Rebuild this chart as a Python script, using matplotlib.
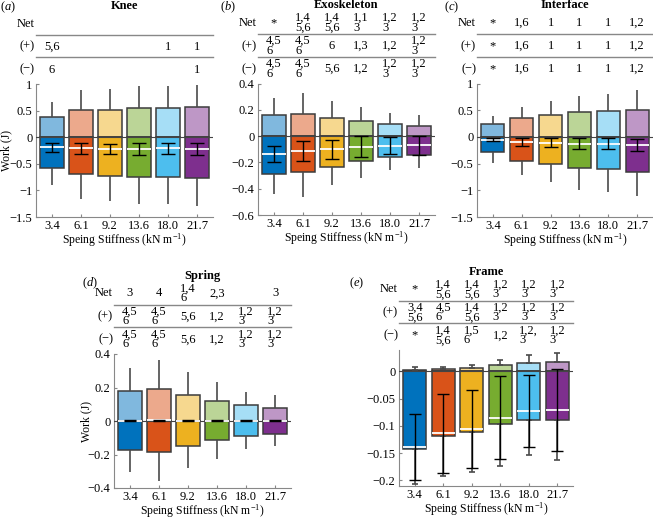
import matplotlib
matplotlib.use("Agg")
import matplotlib.pyplot as plt
from matplotlib.transforms import offset_copy, blended_transform_factory
from matplotlib.ticker import FuncFormatter
import numpy as np

plt.rcParams['font.family'] = ['Liberation Serif', 'DejaVu Serif']
plt.rcParams['mathtext.fontset'] = 'custom'
plt.rcParams['mathtext.rm'] = 'Liberation Serif'
plt.rcParams['mathtext.it'] = 'Liberation Serif:italic'
plt.rcParams['font.size'] = 9

# Spring stiffness conditions
categories = ['3.4', '6.1', '9.2', '13.6', '18.0', '21.7']

# (a) Knee
knee_pos_mean = [0.38, 0.51, 0.52, 0.54, 0.55, 0.56]
knee_pos_sd = [0.28, 0.37, 0.38, 0.42, 0.41, 0.43]
knee_neg_mean = [-0.57, -0.70, -0.72, -0.74, -0.74, -0.77]
knee_neg_sd = [0.33, 0.46, 0.47, 0.51, 0.51, 0.53]
knee_net_mean = [-0.19, -0.21, -0.22, -0.22, -0.21, -0.22]
knee_net_sd = [0.08, 0.11, 0.10, 0.12, 0.11, 0.11]
knee_sig_net = ['', '', '', '', '', '']
knee_sig_pos = ['5,6', '', '', '', '1', '1']
knee_sig_neg = ['6', '', '', '', '', '1']

# (b) Exoskeleton
exo_pos_mean = [0.16, 0.165, 0.14, 0.114, 0.09, 0.078]
exo_pos_sd = [0.126, 0.165, 0.125, 0.106, 0.087, 0.082]
exo_neg_mean = [-0.29, -0.276, -0.238, -0.192, -0.157, -0.144]
exo_neg_sd = [0.15, 0.184, 0.137, 0.124, 0.101, 0.096]
exo_net_mean = [-0.137, -0.111, -0.10, -0.081, -0.073, -0.071]
exo_net_sd = [0.062, 0.075, 0.073, 0.079, 0.066, 0.072]
exo_sig_net = ['*', '1,4\n5,6', '1,4\n5,6', '1,1\n3', '1,2\n3', '1,2\n3']
exo_sig_pos = ['4,5\n6', '4,5\n6', '6', '1,3', '1,2', '1,2\n3']
exo_sig_neg = ['4,5\n6', '4,5\n6', '5,6', '1,2', '1,2\n3', '1,2\n3']

# (c) Interface
int_pos_mean = [0.24, 0.36, 0.41, 0.46, 0.49, 0.51]
int_pos_sd = [0.15, 0.20, 0.265, 0.30, 0.32, 0.36]
int_neg_mean = [-0.29, -0.45, -0.51, -0.58, -0.61, -0.66]
int_neg_sd = [0.19, 0.27, 0.33, 0.41, 0.43, 0.45]
int_net_mean = [-0.05, -0.095, -0.11, -0.125, -0.13, -0.145]
int_net_sd = [0.035, 0.07, 0.085, 0.10, 0.105, 0.115]
int_sig_net = ['*', '1,6', '1', '1', '1', '1,2']
int_sig_pos = ['*', '1,6', '1', '1', '1', '1,2']
int_sig_neg = ['*', '1,6', '1', '1', '1', '1,2']

# (d) Spring
spr_pos_mean = [0.177, 0.193, 0.155, 0.117, 0.093, 0.077]
spr_pos_sd = [0.137, 0.172, 0.135, 0.117, 0.082, 0.078]
spr_neg_mean = [-0.173, -0.187, -0.151, -0.115, -0.091, -0.075]
spr_neg_sd = [0.133, 0.17, 0.131, 0.113, 0.078, 0.072]
spr_net_mean = [0.002, 0.003, 0.002, 0.002, 0.002, 0.002]
spr_net_sd = [0.002, 0.002, 0.002, 0.002, 0.002, 0.002]
spr_sig_net = ['3', '4', '1,4\n6', '2,3', '', '3']
spr_sig_pos = ['4,5\n6', '4,5\n6', '5,6', '1,2', '1,2\n3', '1,2\n3']
spr_sig_neg = ['4,5\n6', '4,5\n6', '5,6', '1,2', '1,2\n3', '1,2\n3']

# (e) Frame
frm_pos_mean = [0.003, 0.0037, 0.006, 0.011, 0.0153, 0.0177]
frm_pos_sd = [0.005, 0.005, 0.0056, 0.0104, 0.0137, 0.0159]
frm_neg_mean = [-0.143, -0.119, -0.111, -0.096, -0.089, -0.089]
frm_neg_sd = [0.064, 0.073, 0.074, 0.078, 0.065, 0.073]
frm_net_mean = [-0.139, -0.114, -0.106, -0.085, -0.073, -0.071]
frm_net_sd = [0.061, 0.072, 0.072, 0.076, 0.066, 0.075]
frm_sig_net = ['*', '1,4\n5,6', '1,4\n5,6', '1,2\n3', '1,2\n3', '1,2\n3']
frm_sig_pos = ['3,4\n5,6', '4,5\n6', '1,4\n5,6', '1,2\n3', '1,2\n3', '1,2\n3']
frm_sig_neg = ['*', '1,4\n5,6', '1,5\n6', '1,2', '1,2,\n3', '1,2\n3']

# MATLAB default colours, light versions for the positive part
dark_colors = [(0, 0.447, 0.741), (0.85, 0.325, 0.098), (0.929, 0.694, 0.125),
               (0.466, 0.674, 0.188), (0.301, 0.745, 0.933), (0.494, 0.184, 0.556)]
light_colors = [tuple(0.5 + 0.5 * c for c in col) for col in dark_colors]

W, H = 653, 520
fig = plt.figure(figsize=(W / 100, H / 100), dpi=100)

# '%g' tick labels with a real minus sign
tick_fmt = FuncFormatter(lambda v, p: ('%g' % v).replace('-', '\u2212'))


def make_axes(left, top, width, height):
    # pixel box -> figure fraction
    return fig.add_axes([left / W, 1 - (top + height) / H, width / W, height / H])


def draw_panel(ax, title, pos_m, pos_s, neg_m, neg_s, net_m, net_s,
               sig_net, sig_pos, sig_neg, ylim, yticks, caps, net_caps):
    x = np.arange(1, len(categories) + 1)
    bw = 0.8
    ax.bar(x, pos_m, bw, color=light_colors, edgecolor='#3c3c3c', linewidth=1.1, zorder=2)
    ax.bar(x, neg_m, bw, color=dark_colors, edgecolor='#3c3c3c', linewidth=1.1, zorder=2)
    # upper / lower sd of positive and negative work
    ax.errorbar(x, pos_m, yerr=[np.zeros(6), pos_s], fmt='none', ecolor='#4a4a4a',
                elinewidth=1.2, capsize=caps, capthick=1.2, zorder=3)
    ax.errorbar(x, neg_m, yerr=[neg_s, np.zeros(6)], fmt='none', ecolor='#4a4a4a',
                elinewidth=1.2, capsize=caps, capthick=1.2, zorder=3)
    ax.axhline(0, color='#444444', lw=0.8, zorder=4)
    # net work: white mean line with black sd
    ax.hlines(net_m, x - bw / 2, x + bw / 2, color='white', lw=1.3, zorder=5)
    ax.errorbar(x, net_m, yerr=net_s, fmt='none', ecolor='black', elinewidth=1.0,
                capsize=net_caps, capthick=1.0, zorder=6)

    ax.set_xlim(0.45, 6.55)
    ax.set_ylim(*ylim)
    ax.set_yticks(yticks)
    ax.yaxis.set_major_formatter(tick_fmt)
    ax.set_xticks(x)
    ax.set_xticklabels(categories)
    ax.set_xlabel('Speing Stiffness (kN m$^{-1}$)', labelpad=-0.5, fontsize=8.5)
    for s in ['top', 'right']:
        ax.spines[s].set_visible(False)
    for s in ['left', 'bottom']:
        ax.spines[s].set_color('#888888')
        ax.spines[s].set_linewidth(0.8)
    ax.tick_params(direction='in', length=2, color='#888888', pad=2.5)

    # significance table above the axes (offsets in pixels from axes top)
    tr = blended_transform_factory(ax.transData, ax.transAxes)
    rows = [(60.5, 'Net', sig_net), (37.5, '(+)', sig_pos), (14.5, '(\u2212)', sig_neg)]
    for dy, lab, vals in rows:
        t_off = offset_copy(ax.transAxes, fig=fig, x=-1, y=dy, units='dots')
        ax.text(0, 1, lab, transform=t_off, ha='right', va='center', clip_on=False)
        d_off = offset_copy(tr, fig=fig, y=dy, units='dots')
        for xi, v in zip(x, vals):
            if v:
                ax.text(xi, 1, v, transform=d_off, ha='center', va='center',
                        multialignment='left', linespacing=0.75, clip_on=False)
    for dy in [49.5, 27]:
        l_off = offset_copy(ax.transAxes, fig=fig, y=dy, units='dots')
        ax.plot([0, 1], [1, 1], transform=l_off, color='#888888', lw=1.0, clip_on=False)
    ti_off = offset_copy(ax.transAxes, fig=fig, y=78, units='dots')
    ax.text(0.5, 1, title, transform=ti_off, ha='center', va='center',
            fontweight='bold', clip_on=False)


ax_a = make_axes(36, 84, 177, 133)
draw_panel(ax_a, 'Knee', knee_pos_mean, knee_pos_sd, knee_neg_mean, knee_neg_sd,
           knee_net_mean, knee_net_sd, knee_sig_net, knee_sig_pos, knee_sig_neg,
           (-1.5, 1), [-1.5, -1, -0.5, 0, 0.5, 1], 0, 5)
ax_a.set_ylabel('Work (J)', fontsize=8.5)
ax_a.yaxis.set_label_coords(-0.135, 0.5)

ax_b = make_axes(258, 83.5, 177, 131.5)
draw_panel(ax_b, 'Exoskeleton', exo_pos_mean, exo_pos_sd, exo_neg_mean, exo_neg_sd,
           exo_net_mean, exo_net_sd, exo_sig_net, exo_sig_pos, exo_sig_neg,
           (-0.6, 0.4), [-0.6, -0.4, -0.2, 0, 0.2, 0.4], 0, 5)

ax_c = make_axes(477, 83.5, 176, 133.5)
draw_panel(ax_c, 'Interface', int_pos_mean, int_pos_sd, int_neg_mean, int_neg_sd,
           int_net_mean, int_net_sd, int_sig_net, int_sig_pos, int_sig_neg,
           (-1.5, 1), [-1.5, -1, -0.5, 0, 0.5, 1], 0, 5)

ax_d = make_axes(114, 354, 177, 134)
draw_panel(ax_d, 'Spring', spr_pos_mean, spr_pos_sd, spr_neg_mean, spr_neg_sd,
           spr_net_mean, spr_net_sd, spr_sig_net, spr_sig_pos, spr_sig_neg,
           (-0.4, 0.4), [-0.4, -0.2, 0, 0.2, 0.4], 0, 4)
ax_d.set_ylabel('Work (J)', fontsize=8.5)
ax_d.yaxis.set_label_coords(-0.125, 0.5)

ax_e = make_axes(399, 350, 174, 136)
draw_panel(ax_e, 'Frame', frm_pos_mean, frm_pos_sd, frm_neg_mean, frm_neg_sd,
           frm_net_mean, frm_net_sd, frm_sig_net, frm_sig_pos, frm_sig_neg,
           (-0.2105, 0.039), [-0.2, -0.15, -0.1, -0.05, 0], 2.5, 4)

# panel letters
for lab, px, py in [('a', 8, 7), ('b', 228, 7), ('c', 452, 7), ('d', 90, 283), ('e', 357, 283)]:
    fig.text(px / W, 1 - py / H, '($\\mathit{' + lab + '}$)', ha='center', va='center')

fig.savefig('out.png', dpi=100)
